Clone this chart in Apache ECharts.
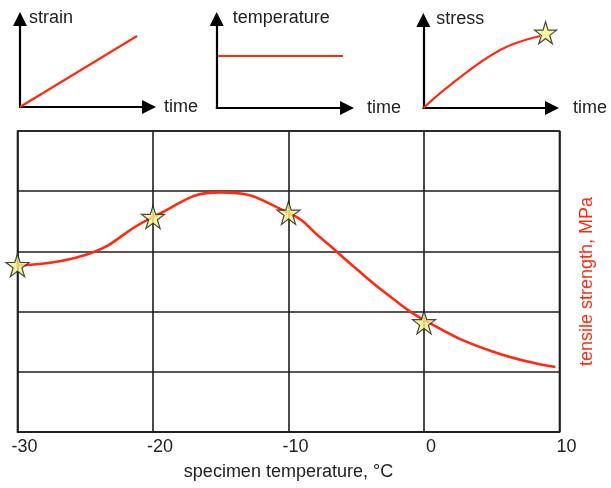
<!DOCTYPE html>
<html>
<head>
<meta charset="utf-8">
<script src="https://cdn.jsdelivr.net/npm/echarts@6/dist/echarts.min.js"></script>
<style>
html,body{margin:0;padding:0;background:#fff;}
#c{width:611px;height:488px;}
</style>
</head>
<body>
<div id="c"></div>
<script>
// Main chart data
const tempC = [-30, -25, -20, -15, -10, -7.5, -5, -2.5, 0, 5, 9.7];
const strength = [2.77, 2.94, 3.57, 3.98, 3.64, 3.20, 2.71, 2.25, 1.86, 1.34, 1.08];
const starTemps = [-30, -20, -10, 0];
const starStrength = [2.77, 3.57, 3.64, 1.82];
const xTicks = [-30, -20, -10, 0, 10];

// Mini charts (arbitrary units 0..10)
const strainTime = [0, 9.07];
const strainVal = [0, 8.07];
const tempTime = [0.1, 9.7];
const tempVal = [5.84, 5.84];
const stressTime = [0, 2.09, 5.97, 9.07];
const stressVal = [0, 2.61, 6.59, 8.18];
const stressStar = [9.5, 8.55];

const FONT = 'Liberation Sans, Arial, sans-serif';
const RED = '#ff2a0f';
const TXT = '#222';
const STAR = 'path://M50,0 L61.2,34.5 L97.6,34.5 L68.2,55.9 L79.4,90.5 L50,69.1 L20.6,90.5 L31.8,55.9 L2.4,34.5 L38.8,34.5 Z';

const zip = (a, b) => a.map((v, i) => [v, b[i]]);

function miniAxes(idx, xName, yName, xGap, yPad) {
  const axLine = {show: true, symbol: ['none', 'triangle'], symbolSize: [14, 14], lineStyle: {color: '#000', width: 2.2}};
  return {
    x: {type: 'value', gridIndex: idx, min: 0, max: 10, axisLine: axLine, axisTick: {show: false}, axisLabel: {show: false}, splitLine: {show: false},
        name: xName, nameLocation: 'end', nameGap: xGap,
        nameTextStyle: {fontFamily: FONT, fontSize: 18, color: TXT, align: 'left', verticalAlign: 'middle', padding: [10, 0, 0, 0]}},
    y: {type: 'value', gridIndex: idx, min: 0, max: 10, axisLine: axLine, axisTick: {show: false}, axisLabel: {show: false}, splitLine: {show: false},
        name: yName, nameLocation: 'end', nameGap: 1,
        nameTextStyle: {fontFamily: FONT, fontSize: 18, color: TXT, align: 'left', verticalAlign: 'middle', padding: [0, 0, 0, yPad]}}
  };
}

const m1 = miniAxes(1, 'time', 'strain', 15, 9);
const m2 = miniAxes(2, 'time', 'temperature', 20, 16);
const m3 = miniAxes(3, 'time', 'stress', 21, 13);

const gridLine = {show: true, lineStyle: {color: '#1e1e1e', width: 1.6}};

const option = {
  animation: false,
  backgroundColor: '#fff',
  grid: [
    {left: 17.5, top: 131, width: 542, height: 301, show: true, borderColor: '#1e1e1e', borderWidth: 1.6},
    {left: 20, top: 19, width: 129, height: 88},
    {left: 216.7, top: 19, width: 130.3, height: 89},
    {left: 423.3, top: 20, width: 128.7, height: 88}
  ],
  xAxis: [
    {type: 'value', gridIndex: 0, min: -30, max: 10, interval: 10,
     axisLine: {show: true, lineStyle: {color: '#1e1e1e', width: 1.6}}, axisTick: {show: false},
     axisLabel: {fontFamily: FONT, fontSize: 18, color: TXT, margin: 6, padding: [0, 0, 0, 14],
                 customValues: xTicks},
     splitLine: gridLine,
     name: 'specimen temperature, °C', nameLocation: 'middle', nameGap: 31,
     nameTextStyle: {fontFamily: FONT, fontSize: 18, color: TXT}},
    m1.x, m2.x, m3.x
  ],
  yAxis: [
    {type: 'value', gridIndex: 0, min: 0, max: 5, interval: 1, position: 'right',
     axisLine: {show: false}, axisTick: {show: false}, axisLabel: {show: false},
     splitLine: gridLine,
     name: 'tensile strength, MPa', nameLocation: 'middle', nameGap: 19,
     nameTextStyle: {fontFamily: FONT, fontSize: 18, color: RED}},
    m1.y, m2.y, m3.y
  ],
  series: [
    {type: 'line', xAxisIndex: 0, yAxisIndex: 0, data: zip(tempC, strength), smooth: 0.5, symbol: 'none',
     lineStyle: {color: RED, width: 2.6}, z: 3},
    {type: 'scatter', xAxisIndex: 0, yAxisIndex: 0, data: zip(starTemps, starStrength), symbol: STAR, symbolSize: 23, clip: false,
     itemStyle: {color: '#f6f28c', borderColor: '#1a1a1a', borderWidth: 1.2}, z: 5},
    {type: 'line', xAxisIndex: 1, yAxisIndex: 1, data: zip(strainTime, strainVal), symbol: 'none', lineStyle: {color: RED, width: 2.2}},
    {type: 'line', xAxisIndex: 2, yAxisIndex: 2, data: zip(tempTime, tempVal), symbol: 'none', lineStyle: {color: RED, width: 2.2}},
    {type: 'line', xAxisIndex: 3, yAxisIndex: 3, data: zip(stressTime, stressVal), smooth: 0.4, symbol: 'none', lineStyle: {color: RED, width: 2.2}},
    {type: 'scatter', xAxisIndex: 3, yAxisIndex: 3, data: [stressStar], symbol: STAR, symbolSize: 22, clip: false,
     itemStyle: {color: '#f6f28c', borderColor: '#1a1a1a', borderWidth: 1.2}, z: 5}
  ]
};

const chart = echarts.init(document.getElementById('c'), null, {renderer: 'canvas'});
chart.setOption(option);
</script>
</body>
</html>
